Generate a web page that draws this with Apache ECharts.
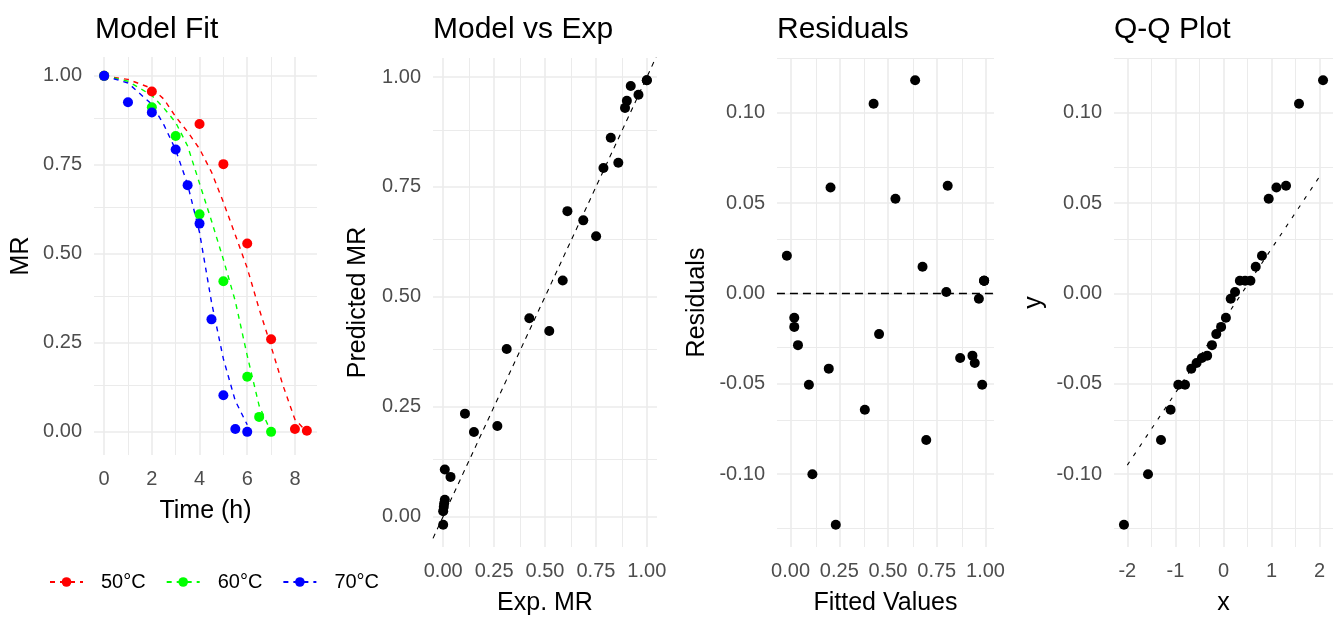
<!DOCTYPE html>
<html>

<head>
    <meta charset="utf-8">
    <title>Model diagnostics</title>
    <script src="https://cdn.jsdelivr.net/npm/echarts@6.0.0/dist/echarts.min.js"></script>
    <style>
        html,
        body {
            margin: 0;
            padding: 0;
            background: #ffffff;
        }

        #main {
            width: 1338px;
            height: 621px;
        }
    </style>
</head>

<body>
    <div id="main"></div>
    <script>
        // measured points, one pair of arrays per temperature
        var t50 = [0, 2, 4, 5, 6, 7, 8, 8.5];
        var mr50 = [1.0, 0.956, 0.865, 0.752, 0.529, 0.26, 0.008, 0.003];
        var t60 = [0, 2, 3, 4, 5, 6, 6.5, 7];
        var mr60 = [1.0, 0.912, 0.831, 0.611, 0.423, 0.155, 0.042, 0.0];
        var t70 = [0, 1, 2, 3, 3.5, 4, 4.5, 5, 5.5, 6];
        var mr70 = [1.0, 0.926, 0.897, 0.793, 0.693, 0.585, 0.316, 0.103, 0.008, 0.0];

        // model curves
        var fitT50 = [0, 1, 2, 2.5, 3, 3.5, 4, 4.5, 5, 5.5, 6, 6.5, 7, 7.5, 8, 8.5];
        var fitMr50 = [1.0, 0.99, 0.965, 0.935, 0.885, 0.843, 0.795, 0.73, 0.645, 0.553, 0.46, 0.345, 0.24, 0.13, 0.035, 0.0];
        var fitT60 = [0, 1, 2, 2.5, 3, 3.5, 4, 4.5, 5, 5.5, 6, 6.5, 7];
        var fitMr60 = [1.0, 0.985, 0.945, 0.91, 0.869, 0.803, 0.698, 0.593, 0.484, 0.367, 0.214, 0.073, 0.0];
        var fitT70 = [0, 1, 2, 2.5, 3, 3.5, 4, 4.5, 5, 5.5, 6];
        var fitMr70 = [1.0, 0.98, 0.92, 0.863, 0.792, 0.695, 0.56, 0.365, 0.205, 0.087, 0.02];

        // experimental vs predicted
        var expMR = [0.0, 0.0, 0.003, 0.005, 0.008, 0.008, 0.036, 0.107, 0.151, 0.266, 0.312, 0.423, 0.521,
            0.587, 0.61, 0.688, 0.751, 0.787, 0.823, 0.86, 0.893, 0.902, 0.921, 0.959, 1.0, 1.0];
        var predMR = [-0.019, 0.012, 0.022, 0.03, 0.038, 0.107, 0.09, 0.234, 0.192, 0.206, 0.381, 0.451, 0.422,
            0.537, 0.695, 0.674, 0.638, 0.793, 0.862, 0.805, 0.93, 0.946, 0.98, 0.96, 0.993, 0.993];
        var refX = [-0.05, 1.05];
        var refY = [-0.05, 1.05];

        // residuals
        var fitted = [-0.019, 0.019, 0.019, 0.038, 0.094, 0.112, 0.196, 0.205, 0.232, 0.381, 0.426, 0.454, 0.538,
            0.639, 0.677, 0.696, 0.799, 0.806, 0.87, 0.933, 0.945, 0.966, 0.983, 0.993, 0.993, 0.993];
        var resid = [0.0209, -0.0134, -0.0185, -0.0286, -0.0505, -0.1, -0.0416, 0.0586, -0.128, -0.0643, 0.105,
            -0.0225, 0.0524, 0.118, 0.0148, -0.0811, 0.0008, 0.0596, -0.0357, -0.0344, -0.0385, -0.0029,
            -0.0505, 0.007, 0.007, 0.007];
        var zeroX = [-0.07, 1.044];
        var zeroY = [0, 0];

        // Q-Q
        var qqX = [-2.07, -1.57, -1.30, -1.10, -0.94, -0.80, -0.67, -0.56, -0.45, -0.34, -0.24, -0.15, -0.05,
            0.05, 0.15, 0.24, 0.34, 0.45, 0.56, 0.67, 0.80, 0.94, 1.10, 1.30, 1.57, 2.07];
        var qqY = [-0.128, -0.1, -0.0811, -0.0643, -0.0505, -0.0505, -0.0416, -0.0385, -0.0357, -0.0344, -0.0286,
            -0.0225, -0.0185, -0.0134, -0.0029, 0.0008, 0.007, 0.007, 0.007, 0.0148, 0.0209, 0.0524, 0.0586,
            0.0596, 0.105, 0.118];
        var qqLineX = [-2.0, 2.03];
        var qqLineY = [-0.095, 0.066];

        // ticks
        var timeTicks = [0, 2, 4, 6, 8];
        var timeMinor = [1, 3, 5, 7];
        var unitTicks = [0, 0.25, 0.5, 0.75, 1];
        var unitMinor = [0.125, 0.375, 0.625, 0.875];
        var residTicks = [-0.1, -0.05, 0, 0.05, 0.1];
        var residMinor = [-0.125, -0.075, -0.025, 0.025, 0.075, 0.125];
        var qqTicks = [-2, -1, 0, 1, 2];
        var qqMinor = [-1.5, -0.5, 0.5, 1.5];

        var tempNames = ['50°C', '60°C', '70°C'];
        var tempColors = ['#ff0000', '#00ff00', '#0000ff'];

        var FONT = 'Liberation Sans, Arial, sans-serif';

        function pairs(xs, ys) {
            return xs.map(function (x, i) { return [x, ys[i]]; });
        }

        function fmt2(v) { return v.toFixed(2); }
        function fmt0(v) { return String(Math.round(v)); }

        // background grid drawn as mark lines (kept under everything)
        function gridSeries(idx, xMaj, xMin, yMaj, yMin) {
            var d = [];
            var minor = { color: '#ebebeb', width: 1, type: 'solid' };
            var major = { color: '#ebebeb', width: 1.6, type: 'solid' };
            xMin.forEach(function (v) { d.push({ xAxis: v, lineStyle: minor }); });
            yMin.forEach(function (v) { d.push({ yAxis: v, lineStyle: minor }); });
            xMaj.forEach(function (v) { d.push({ xAxis: v, lineStyle: major }); });
            yMaj.forEach(function (v) { d.push({ yAxis: v, lineStyle: major }); });
            return {
                type: 'line', xAxisIndex: idx, yAxisIndex: idx, data: [], z: 0, silent: true,
                markLine: { z: 0, silent: true, symbol: ['none', 'none'], label: { show: false }, animation: false, data: d }
            };
        }

        function xAx(idx, min, max, ticks, f, name) {
            return {
                gridIndex: idx, type: 'value', min: min, max: max,
                axisLine: { show: false }, axisTick: { show: false }, splitLine: { show: false },
                axisLabel: { customValues: ticks, formatter: f, color: '#4d4d4d', fontSize: 20, fontFamily: FONT, margin: 14 },
                name: name, nameLocation: 'middle', nameGap: 44,
                nameTextStyle: { color: '#000', fontSize: 25, fontFamily: FONT }
            };
        }

        function yAx(idx, min, max, ticks, f, name, gap) {
            return {
                gridIndex: idx, type: 'value', min: min, max: max,
                axisLine: { show: false }, axisTick: { show: false }, splitLine: { show: false },
                axisLabel: { customValues: ticks, formatter: f, color: '#4d4d4d', fontSize: 20, fontFamily: FONT, margin: 12 },
                name: name, nameLocation: 'middle', nameGap: gap,
                nameTextStyle: { color: '#000', fontSize: 25, fontFamily: FONT }
            };
        }

        var titleStyle = { color: '#000', fontSize: 30, fontWeight: 'normal', fontFamily: FONT };

        var series = [
            gridSeries(0, timeTicks, timeMinor, unitTicks, unitMinor),
            gridSeries(1, unitTicks, unitMinor, unitTicks, unitMinor),
            gridSeries(2, unitTicks, unitMinor, residTicks, residMinor),
            gridSeries(3, qqTicks, qqMinor, residTicks, residMinor)
        ];

        var fitT = [fitT50, fitT60, fitT70];
        var fitMr = [fitMr50, fitMr60, fitMr70];
        var obsT = [t50, t60, t70];
        var obsMr = [mr50, mr60, mr70];

        // dashed model lines first (legend takes its icon from these)
        for (var i = 0; i < 3; i++) {
            series.push({
                name: tempNames[i], type: 'line', xAxisIndex: 0, yAxisIndex: 0, z: 2,
                data: pairs(fitT[i], fitMr[i]), symbol: 'circle', showSymbol: false, smooth: false,
                itemStyle: { color: tempColors[i] },
                lineStyle: { color: tempColors[i], width: 1.4, type: [5, 5] }
            });
        }
        for (var j = 0; j < 3; j++) {
            series.push({
                name: tempNames[j], type: 'scatter', xAxisIndex: 0, yAxisIndex: 0, z: 3,
                data: pairs(obsT[j], obsMr[j]), symbolSize: 10,
                itemStyle: { color: tempColors[j], opacity: 1 }
            });
        }

        series.push({
            type: 'line', xAxisIndex: 1, yAxisIndex: 1, z: 2, data: pairs(refX, refY), symbol: 'none',
            lineStyle: { color: '#000', width: 1.1, type: [5, 5] }
        });
        series.push({
            type: 'scatter', xAxisIndex: 1, yAxisIndex: 1, z: 3, data: pairs(expMR, predMR), symbolSize: 10,
            itemStyle: { color: '#000', opacity: 1 }
        });

        series.push({
            type: 'line', xAxisIndex: 2, yAxisIndex: 2, z: 2, data: pairs(zeroX, zeroY), symbol: 'none',
            lineStyle: { color: '#000', width: 1.6, type: [8, 5] }
        });
        series.push({
            type: 'scatter', xAxisIndex: 2, yAxisIndex: 2, z: 3, data: pairs(fitted, resid), symbolSize: 10,
            itemStyle: { color: '#000', opacity: 1 }
        });

        series.push({
            type: 'line', xAxisIndex: 3, yAxisIndex: 3, z: 2, data: pairs(qqLineX, qqLineY), symbol: 'none',
            lineStyle: { color: '#000', width: 1.1, type: [4, 7] }
        });
        series.push({
            type: 'scatter', xAxisIndex: 3, yAxisIndex: 3, z: 3, data: pairs(qqX, qqY), symbolSize: 10,
            itemStyle: { color: '#000', opacity: 1 }
        });

        var option = {
            animation: false,
            backgroundColor: '#ffffff',
            title: [
                { text: 'Model Fit', left: 95, top: 15, padding: 0, textStyle: titleStyle },
                { text: 'Model vs Exp', left: 433, top: 15, padding: 0, textStyle: titleStyle },
                { text: 'Residuals', left: 777, top: 15, padding: 0, textStyle: titleStyle },
                { text: 'Q-Q Plot', left: 1114, top: 15, padding: 0, textStyle: titleStyle }
            ],
            legend: {
                data: tempNames, left: 49, top: 572, padding: 0,
                itemWidth: 33, itemHeight: 12, itemGap: 20,
                textStyle: { color: '#000', fontSize: 20, fontFamily: FONT, padding: [0, 0, 0, 13] }
            },
            grid: [
                { left: 94, top: 57, width: 223, height: 398 },
                { left: 433, top: 58, width: 224, height: 493 },
                { left: 777, top: 58, width: 217, height: 493 },
                { left: 1114, top: 58, width: 219, height: 493 }
            ],
            xAxis: [
                xAx(0, -0.425, 8.925, timeTicks, fmt0, 'Time (h)'),
                xAx(1, -0.05, 1.05, unitTicks, fmt2, 'Exp. MR'),
                xAx(2, -0.0696, 1.0436, unitTicks, fmt2, 'Fitted Values'),
                xAx(3, -2.277, 2.277, qqTicks, fmt0, 'x')
            ],
            yAxis: [
                yAx(0, -0.065, 1.053, unitTicks, fmt2, 'MR', 60),
                yAx(1, -0.0696, 1.0436, unitTicks, fmt2, 'Predicted MR', 62),
                yAx(2, -0.1403, 0.1303, residTicks, fmt2, 'Residuals', 67),
                yAx(3, -0.1403, 0.1303, residTicks, fmt2, 'y', 67)
            ],
            series: series
        };

        var myChart = echarts.init(document.getElementById('main'));
        myChart.setOption(option);
    </script>
</body>

</html>
